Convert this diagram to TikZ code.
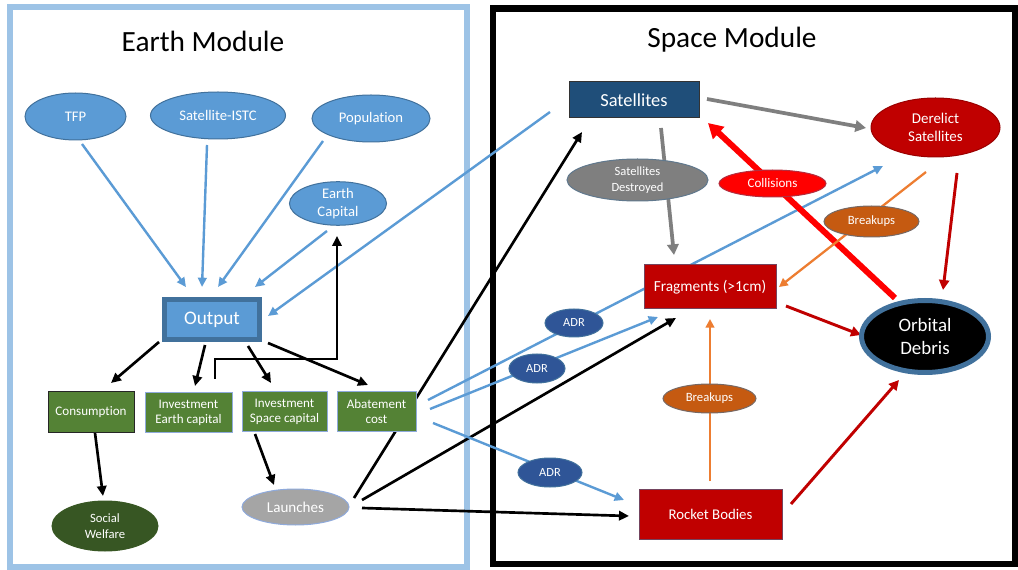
\documentclass[tikz,border=0pt]{standalone}
\usepackage{fontspec}
\setmainfont{Carlito}[Ligatures=NoCommon]
\usetikzlibrary{arrows.meta,shapes.geometric,calc}
\pgfdeclarelayer{frame}
\pgfdeclarelayer{edges}
\pgfsetlayers{frame,edges,main}
\definecolor{blueFill}{HTML}{5B9BD5}
\definecolor{blueLine}{HTML}{41719C}
\definecolor{frameBlue}{HTML}{9DC3E6}
\definecolor{greenFill}{HTML}{548235}
\definecolor{greenLine}{HTML}{385723}
\definecolor{darkGreen}{HTML}{375623}
\definecolor{greyFill}{HTML}{A5A5A5}
\definecolor{navy}{HTML}{1F4E79}
\definecolor{darkRed}{HTML}{C00000}
\definecolor{brightRed}{HTML}{FF0000}
\definecolor{orangeFill}{HTML}{C55A11}
\definecolor{orangeLine}{HTML}{ED7D31}
\definecolor{adrFill}{HTML}{2F5597}
\definecolor{greyArrow}{HTML}{7F7F7F}
\definecolor{boxEdge}{HTML}{8FAADC}
\begin{document}
\begin{tikzpicture}[x=0.75pt,y=-0.75pt,
  sz/.style 2 args={minimum width=#1*0.75pt, minimum height=#2*0.75pt},
  ell/.style={ellipse, inner sep=0pt, text=white, align=center, line width=0.75pt},
  rbox/.style={rectangle, inner sep=0pt, text=white, align=center, line width=0.75pt},
  fs/.style 2 args={font=\fontsize{#1}{#2}\selectfont},
  blueell/.style={ell, fill=blueFill, draw=blueLine, fs={11}{13.7}},
  greenbox/.style={rbox, fill=greenFill, draw=boxEdge, fs={9.8}{11.3}},
  adrell/.style={ell, fill=adrFill, draw=blueLine, fs={9.3}{11}},
  brkell/.style={ell, fill=orangeFill, draw=blueLine!60!orangeFill, fs={9.5}{11}},
  title/.style={font=\fontsize{22}{26}\selectfont, text=black},
  bluearrow/.style={draw=blueFill, line width=1.8pt, -{Triangle[length=7pt,width=6.5pt]}},
  blackarrow/.style={draw=black, line width=2pt, -{Triangle[length=7.5pt,width=7pt]}},
  greyarrowst/.style={draw=greyArrow, line width=2.8pt, -{Triangle[length=8pt,width=8.5pt]}},
  collarrow/.style={draw=brightRed, line width=4.5pt, -{Triangle[length=11pt,width=12pt]}},
  redarrow/.style={draw=darkRed, line width=2.2pt, -{Triangle[length=7.5pt,width=7.5pt]}},
  orangearrow/.style={draw=orangeLine, line width=1.7pt, -{Triangle[length=6.5pt,width=6.5pt]}},
  frameline/.style={line width=4.5pt}
]
\useasboundingbox (0,0) rectangle (1018,570);

% ---------- titles ----------
\node[title] (etitle) at (203,41) {Earth Module};
\node[title] (stitle) at (732,40) {Space Module};

% ---------- Earth module nodes ----------
\node[blueell, sz={101}{47}] (tfp) at (75.5,116.5) {TFP};
\node[blueell, sz={135}{47}] (istc) at (218,115.5) {Satellite-ISTC};
\node[blueell, sz={118}{47}] (pop) at (371,118.5) {Population};
\node[blueell, sz={97}{43}] (ecap) at (338,203.5) {Earth\\Capital};
\node[rbox, fill=blueFill, draw=blueLine, line width=3.75pt, sz={95}{40}, fs={14.4}{17}] (output) at (212,319.5) {Output};
\node[greenbox, draw=black!85, sz={86}{40}] (cons) at (91,412) {Consumption};
\node[greenbox, sz={87}{39}] (inve) at (188.5,412.5) {Investment\\Earth capital};
\node[greenbox, sz={85}{39}] (invs) at (284.5,411.5) {Investment\\Space capital};
\node[greenbox, sz={79}{39}] (abate) at (376.5,411.5) {Abatement\\cost};
\node[ell, fill=darkGreen, draw=greenLine, sz={106}{50}, fs={9.5}{11.5}] (welfare) at (105,526) {Social\\Welfare};
\node[ell, fill=greyFill, draw=boxEdge, sz={107}{36}, fs={11.3}{13}] (launch) at (295.5,507) {Launches};

% ---------- Space module nodes ----------
\node[rbox, fill=navy, draw=black!80, sz={130}{36}, fs={13.8}{16}] (sat) at (634,100) {Satellites};
\node[ell, fill=darkRed, draw=darkRed!80!black, sz={129}{59}, fs={11.2}{13.7}] (derelict) at (935.5,127.5) {Derelict\\Satellites};
\node[ell, fill=greyArrow, draw=blueLine!50!greyArrow, sz={141}{42}, fs={9.4}{11.5}] (destroyed) at (637.5,180) {Satellites\\Destroyed};
\node[ell, fill=brightRed, draw=blueLine!40!brightRed, sz={107}{27}, fs={9.8}{11}] (coll) at (772.5,183.5) {Collisions};
\node[brkell, sz={95}{31}] (brkA) at (871.5,221.5) {Breakups};
\node[rbox, fill=darkRed, draw=blueLine!60!darkRed, sz={132}{44}, fs={11.5}{13}] (frag) at (710,287) {Fragments (>1cm)};
\node[ell, fill=black, draw=blueLine, line width=3.75pt, sz={127}{72}, fs={14.2}{17.5}] (orbital) at (925,336.5) {Orbital\\Debris};
\node[adrell, sz={58}{28}] (adrA) at (574,323) {ADR};
\node[adrell, sz={56}{29}] (adrB) at (537,368.5) {ADR};
\node[brkell, sz={93}{29}] (brkB) at (709.5,398.5) {Breakups};
\node[adrell, sz={64}{29}] (adrC) at (550,472.5) {ADR};
\node[rbox, fill=darkRed, draw=blueLine!60!darkRed, sz={143}{50}, fs={11.1}{13}] (rocket) at (710.5,514) {Rocket Bodies};

% ---------- frames ----------
\begin{pgfonlayer}{frame}
\fill[white] (0,0) rectangle (1018,570);
\draw[frameline, draw=frameBlue] (10,7.5) rectangle (466.5,567);
\draw[frameline, draw=black, line width=5pt] (493,8.5) rectangle (1015,564);
\end{pgfonlayer}

% ---------- connectors ----------
\begin{pgfonlayer}{edges}
% into Output
\draw[bluearrow] ($(tfp)+(6.5,27.5)$) -- ($(output)+(-26,-32.5)$);
\draw[bluearrow] ($(istc)+(-11,29.5)$) -- ($(output)+(-10,-32.5)$);
\draw[bluearrow] ($(pop)+(-48,22.5)$) -- ($(output)+(6,-32.5)$);
\draw[bluearrow] ($(ecap)+(-11,27.5)$) -- ($(output)+(43,-32.5)$);
\draw[bluearrow] ($(sat)+(-84,12)$) -- ($(output)+(56,-3.5)$);
% out of Output
\draw[blackarrow] ($(output)+(-53,22.5)$) -- ($(cons)+(20,-29)$);
\draw[blackarrow] ($(output)+(-7,25.5)$) -- ($(inve)+(6.5,-26.5)$);
\draw[blackarrow] ($(output)+(36,26.5)$) -- ($(invs)+(-13.5,-28.5)$);
\draw[blackarrow] ($(output)+(56,23.5)$) -- ($(abate)+(-8.5,-26.5)$);
% feedback to Earth Capital
\draw[blackarrow] ($(inve)+(26.5,-33.5)$) -- ++(0,-20) -| ($(ecap)+(-1,32.5)$);
% lower Earth arrows
\draw[blackarrow] ($(cons)+(4,21)$) -- ($(welfare)+(-2,-30)$);
\draw[blackarrow] ($(invs)+(-29.5,22.5)$) -- ($(launch)+(-21.5,-22)$);
% Launches to space
\draw[blackarrow] ($(launch)+(58.5,-9)$) -- ($(sat)+(-52,32)$);
\draw[blackarrow] ($(launch)+(66.5,-7)$) -- ($(frag)+(-34,31)$);
\draw[blackarrow] ($(launch)+(66.5,1)$) -- ($(rocket)+(-81.5,2)$);
% ADR lines
\draw[bluearrow] ($(abate)+(51.5,-11.5)$) -- ($(derelict)+(-52.5,38.5)$);
\draw[bluearrow] ($(abate)+(53.5,-2.5)$) -- ($(frag)+(-52,30)$);
\draw[bluearrow] ($(abate)+(56.5,11.5)$) -- ($(rocket)+(-86.5,-14)$);
% Space module connectors
\draw[greyarrowst] ($(sat)+(73,-1)$) -- ($(derelict)+(-69.5,0.5)$);
\draw[greyarrowst] ($(sat)+(27,28)$) -- ($(frag)+(-36,-32)$);
\draw[collarrow] ($(orbital)+(-30,-38.5)$) -- ($(sat)+(74,23)$);
\draw[orangearrow] ($(derelict)+(-9.5,44.5)$) -- ($(frag)+(69,0)$);
\draw[redarrow] ($(derelict)+(21.5,45.5)$) -- ($(orbital)+(18,-46.5)$);
\draw[redarrow] ($(frag)+(76,19)$) -- ($(orbital)+(-64,-1.5)$);
\draw[redarrow] ($(rocket)+(80.5,-10)$) -- ($(orbital)+(-26,43.5)$);
\draw[orangearrow] ($(rocket)+(-0.5,-33)$) -- ($(frag)+(0,32)$);
\end{pgfonlayer}
\end{tikzpicture}
\end{document}
